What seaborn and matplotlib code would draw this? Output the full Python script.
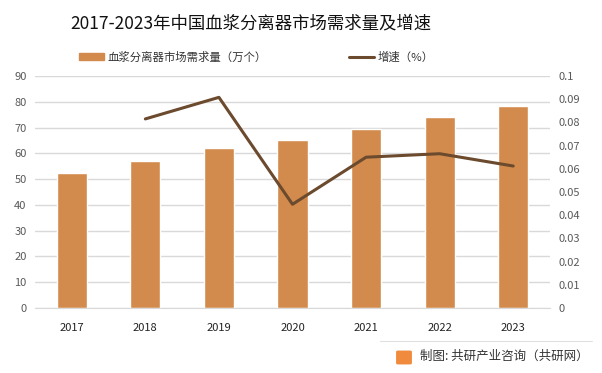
import numpy as np
import pandas as pd
import matplotlib.pyplot as plt
import matplotlib.patches as mpatches
from matplotlib.lines import Line2D
import seaborn as sns

years = ["2017", "2018", "2019", "2020", "2021", "2022", "2023"]
demand = [52.5, 57.0, 62.1, 65.2, 69.4, 74.1, 78.4]
growth_years = ["2018", "2019", "2020", "2021", "2022", "2023"]
growth = [0.0815, 0.0908, 0.0447, 0.0650, 0.0665, 0.0612]

bar_color = "#D38B4D"
line_color = "#6B4A2E"
grid_color = "#D9D9D9"
tick_color = "#595959"

sns.set_style("white")
plt.rcParams["font.family"] = ["Noto Sans CJK SC", "DejaVu Sans"]

fig = plt.figure(figsize=(6.02, 3.73), dpi=100)
ax = fig.add_axes([35 / 602, 1 - 308 / 373, (550 - 35) / 602, (308 - 76) / 373])

df = pd.DataFrame({"year": years, "demand": demand})
sns.barplot(data=df, x="year", y="demand", color=bar_color, saturation=1,
            width=0.41, ax=ax, zorder=2)
ax.set_xlim(-0.5, 6.5)
ax.set_ylim(0, 90)
ax.set_yticks(range(0, 91, 10))
ax.yaxis.grid(True, color=grid_color, linewidth=1, zorder=0)
ax.set_axisbelow(True)
ax.set_xlabel("")
ax.set_ylabel("")
for s in ["top", "right", "left"]:
    ax.spines[s].set_visible(False)
ax.spines["bottom"].set_color(grid_color)
ax.tick_params(axis="y", length=0, labelsize=8, labelcolor=tick_color, pad=6)
ax.tick_params(axis="x", length=0, labelsize=8, labelcolor="#222222", pad=11)

ax2 = ax.twinx()
gx = [years.index(y) for y in growth_years]
sns.lineplot(x=gx, y=growth, color=line_color, linewidth=2.2, ax=ax2)
ax2.set_ylim(0, 0.1)
ax2.set_yticks(np.arange(0, 0.101, 0.01))
ax2.set_yticklabels(["0", "0.01", "0.02", "0.03", "0.04", "0.05", "0.06",
                     "0.07", "0.08", "0.09", "0.1"])
ax2.set_xlim(-0.5, 6.5)
for s in ["top", "right", "left", "bottom"]:
    ax2.spines[s].set_visible(False)
ax2.tick_params(axis="y", length=0, labelsize=8, labelcolor=tick_color, pad=6)

fig.text(251 / 602, 1 - 23 / 373, "2017-2023年中国血浆分离器市场需求量及增速",
         ha="center", va="center", fontsize=12.5, color="#111111")

handles = [mpatches.Patch(color=bar_color, label="血浆分离器市场需求量（万个）"),
           Line2D([0], [0], color=line_color, linewidth=2.2, label="增速（%）")]
fig.legend(handles=handles, loc="center", bbox_to_anchor=(256 / 602, 1 - 57 / 373),
           ncol=2, frameon=False, fontsize=8.2, columnspacing=7.2,
           handlelength=2.2, handleheight=0.5, handletextpad=0.3,
           labelcolor="#333333")

fig.add_artist(Line2D([380 / 602, 592 / 602], [1 - 341 / 373, 1 - 341 / 373],
                      color="#E0E0E0", linewidth=0.8))
fig.add_artist(mpatches.FancyBboxPatch((398 / 602, 1 - 363 / 373), 12 / 602, 11 / 373,
                                       boxstyle="round,pad=0.002", color="#F08A3C"))
fig.text(420 / 602, 1 - 356 / 373, "制图: 共研产业咨询（共研网）",
         ha="left", va="center", fontsize=9, color="#333333")

fig.savefig("out.png", dpi=100)
